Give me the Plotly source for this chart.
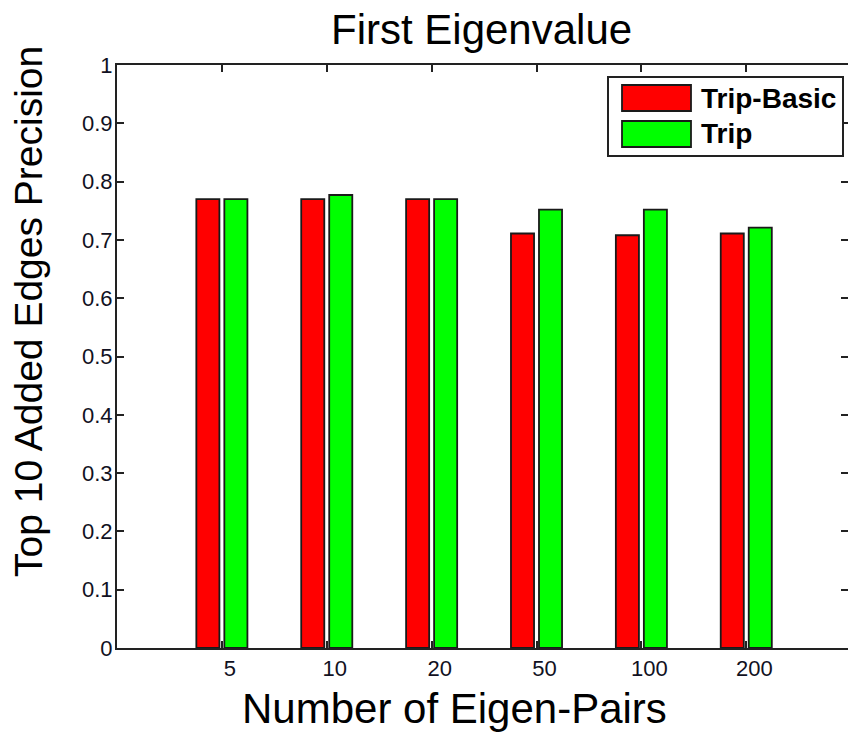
import plotly.graph_objects as go

# ---- data ----
categories = ["5", "10", "20", "50", "100", "200"]
trip_basic = [0.770, 0.770, 0.770, 0.711, 0.708, 0.711]
trip = [0.770, 0.777, 0.770, 0.752, 0.752, 0.721]
series_names = ["Trip-Basic", "Trip"]
series_colors = ["#FF0000", "#00FF00"]
y_ticks = [0, 0.1, 0.2, 0.3, 0.4, 0.5, 0.6, 0.7, 0.8, 0.9, 1]
y_tick_labels = ["0", "0.1", "0.2", "0.3", "0.4", "0.5", "0.6", "0.7", "0.8", "0.9", "1"]

W, H = 848, 744
L, R, T, B = 117, 0, 65, 96
PW, PH = W - L - R, H - T - B

def px(x):
    return (x - L) / PW

def py(y):
    return (H - B - y) / PH

FONT = "Liberation Sans, Arial, sans-serif"
AX = "#222"

fig = go.Figure()
for name, vals, col in zip(series_names, [trip_basic, trip], series_colors):
    fig.add_trace(go.Bar(
        x=categories, y=vals, name=name,
        marker=dict(color=col, line=dict(color="#1a1a1a", width=1.8)),
        showlegend=False,
    ))
# invisible helper trace so the right-side tick axis is drawn
fig.add_trace(go.Scatter(x=[categories[0]], y=[0], yaxis="y2", mode="markers",
                         marker=dict(opacity=0), showlegend=False, hoverinfo="skip"))

fig.update_layout(
    width=W, height=H,
    margin=dict(l=L, r=R, t=T, b=B, pad=0),
    paper_bgcolor="white", plot_bgcolor="white",
    barmode="group", bargap=0.466, bargroupgap=0.176,
    font=dict(family=FONT, color="black"),
    yaxis2=dict(overlaying="y", side="right", range=[0, 1], tickvals=y_ticks,
                showticklabels=False, ticks="inside", ticklen=7, tickwidth=2,
                tickcolor=AX, showline=False, showgrid=False, zeroline=False),
)
fig.update_xaxes(
    type="category", range=[-1, 5.97],
    showline=True, linecolor=AX, linewidth=2, mirror="ticks",
    ticks="inside", ticklen=7, tickwidth=2, tickcolor=AX,
    showgrid=False, zeroline=False,
    tickfont=dict(size=22, family=FONT, color="#111122"),
    ticklabelstandoff=0, ticklabelshift=8,
)
fig.update_yaxes(
    selector=dict(overlaying=None),
    range=[0, 1], tickvals=y_ticks, ticktext=y_tick_labels,
    showline=True, linecolor=AX, linewidth=2, mirror=False,
    ticks="inside", ticklen=7, tickwidth=2, tickcolor=AX,
    showgrid=False, zeroline=False,
    tickfont=dict(size=22, family=FONT, color="#111122"),
    ticklabelstandoff=-2,
)

annotations = [
    dict(text="First Eigenvalue", x=px(481), y=py(30), xref="paper", yref="paper",
         showarrow=False, font=dict(size=42, family=FONT), xanchor="center", yanchor="middle"),
    dict(text="Number of Eigen-Pairs", x=px(454), y=py(708), xref="paper", yref="paper",
         showarrow=False, font=dict(size=42, family=FONT), xanchor="center", yanchor="middle"),
    dict(text="Top 10 Added Edges Precision", x=px(28), y=py(312), xref="paper", yref="paper",
         showarrow=False, textangle=-90, font=dict(size=39, family=FONT),
         xanchor="center", yanchor="middle"),
]

shapes = [
    dict(type="rect", xref="paper", yref="paper", x0=px(608), x1=px(843), y0=py(156), y1=py(77),
         line=dict(color=AX, width=2), fillcolor="white", layer="above"),
]
row_y = [98, 134]
for name, col, ry in zip(series_names, series_colors, row_y):
    shapes.append(dict(type="rect", xref="paper", yref="paper",
                       x0=px(622), x1=px(691), y0=py(ry + 13), y1=py(ry - 13),
                       line=dict(color="#1a1a1a", width=1.8), fillcolor=col, layer="above"))
    annotations.append(dict(text=name, x=px(699), y=py(ry), xref="paper", yref="paper",
                            showarrow=False, xanchor="left", yanchor="middle",
                            font=dict(size=28, family=FONT, weight="bold")))

fig.update_layout(annotations=annotations, shapes=shapes)
fig.write_html("out.html", config={"displayModeBar": False},
               post_script="document.body.style.margin='0';document.body.style.overflow='hidden';")
